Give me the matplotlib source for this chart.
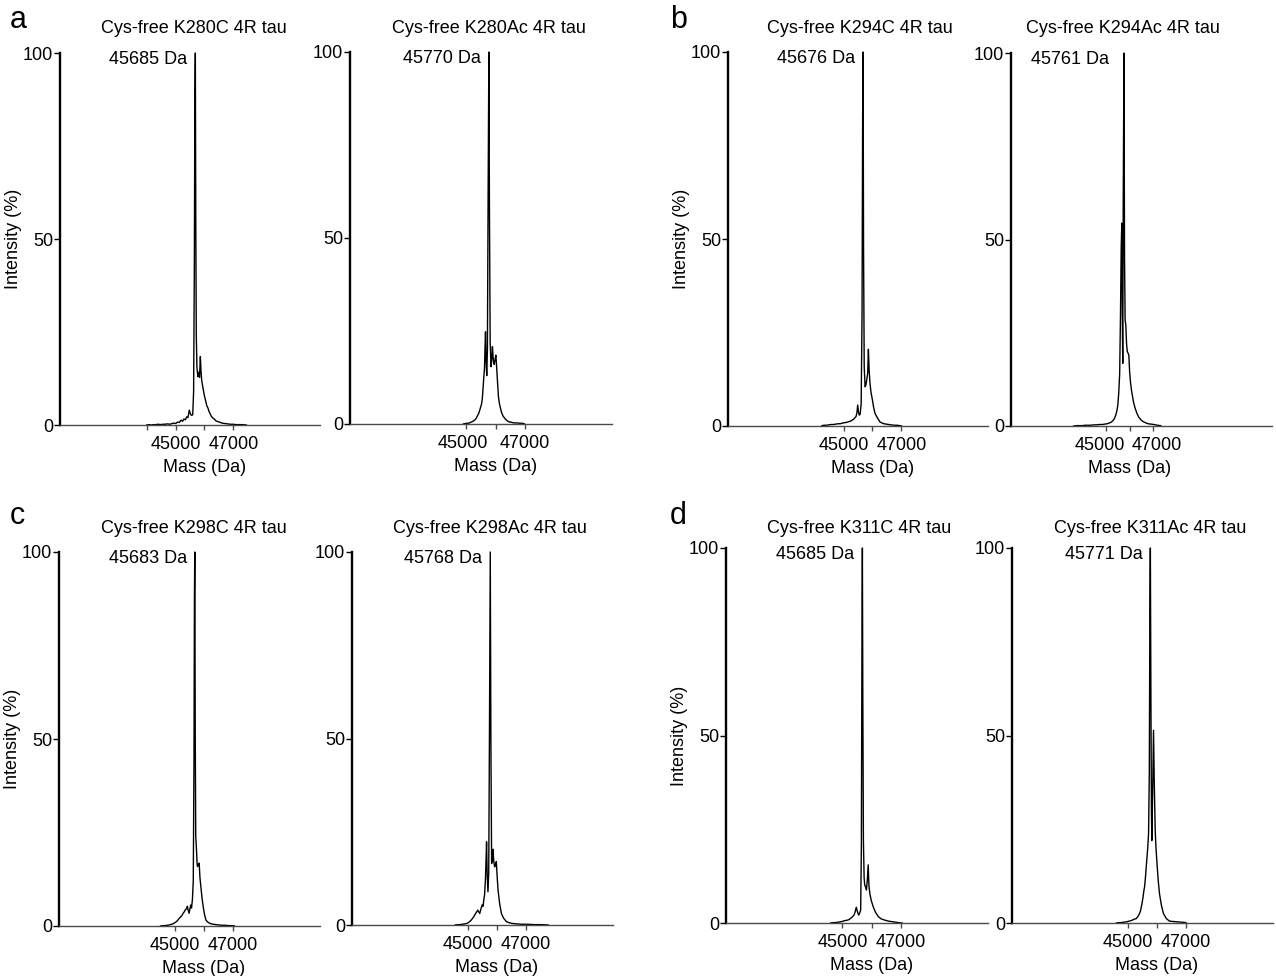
import matplotlib
matplotlib.use('Agg')
import matplotlib.pyplot as plt
from matplotlib.transforms import ScaledTranslation

plt.rcParams['font.family'] = ['Liberation Sans', 'DejaVu Sans']

# ---- data (mass in Da, intensity in %) ----
titles = ['Cys-free K280C 4R tau', 'Cys-free K280Ac 4R tau',
          'Cys-free K294C 4R tau', 'Cys-free K294Ac 4R tau',
          'Cys-free K298C 4R tau', 'Cys-free K298Ac 4R tau',
          'Cys-free K311C 4R tau', 'Cys-free K311Ac 4R tau']
peak_mass = [45685, 45770, 45676, 45761, 45683, 45768, 45685, 45771]

a1_mass = [44000, 44080, 44160, 44240, 44320, 44400, 44480, 44560,
           44640, 44720, 44800, 44880, 44950, 45010, 45070, 45130,
           45190, 45240, 45290, 45340, 45390, 45430, 45475, 45505,
           45535, 45565, 45594, 45625, 45650, 45668, 45685, 45700,
           45718, 45740, 45770, 45800, 45830, 45859, 45880, 45905,
           45930, 45960, 46000, 46040, 46080, 46120, 46160, 46200,
           46240, 46290, 46340, 46400, 46470, 46540, 46620, 46700,
           46800, 46900, 47000, 47100, 47200, 47320, 47450]
a1_int = [0.0, 0.1, 0.0, 0.1, 0.1, 0.2, 0.1, 0.2,
          0.2, 0.3, 0.2, 0.4, 0.5, 0.4, 0.8, 0.7,
          1.3, 1.0, 1.6, 1.4, 2.2, 2.0, 4.0, 3.2,
          2.7, 2.6, 2.8, 9.0, 42.0, 86.0, 100.0, 55.0,
          24.0, 15.5, 13.0, 14.2, 12.8, 18.4, 14.6, 12.0,
          10.8, 9.5, 7.8, 6.6, 5.2, 4.6, 3.6, 3.0,
          2.3, 1.9, 1.6, 1.1, 0.9, 0.7, 0.5, 0.4,
          0.3, 0.2, 0.2, 0.1, 0.1, 0.1, 0.0]

a2_mass = [44890, 44950, 45010, 45070, 45130, 45190, 45240, 45290,
           45340, 45390, 45430, 45460, 45490, 45520, 45545, 45570,
           45595, 45620, 45640, 45655, 45675, 45697, 45720, 45745,
           45770, 45790, 45815, 45845, 45870, 45893, 45915, 45935,
           45955, 45980, 46010, 46040, 46070, 46100, 46130, 46170,
           46210, 46260, 46320, 46380, 46450, 46530, 46620, 46720,
           46820, 46920, 47000]
a2_int = [0.0, 0.1, 0.2, 0.2, 0.4, 0.6, 0.8, 1.1,
          1.6, 2.4, 3.0, 3.8, 4.6, 5.4, 6.8, 9.5,
          12.5, 15.0, 21.0, 24.8, 17.0, 13.0, 20.0, 62.0,
          100.0, 58.0, 22.0, 15.4, 17.5, 20.8, 18.0, 16.4,
          16.0, 17.2, 18.5, 15.0, 11.0, 7.3, 5.6, 4.2,
          3.0, 2.1, 1.5, 1.0, 0.6, 0.5, 0.3, 0.3,
          0.2, 0.2, 0.0]

b1_mass = [44250, 44330, 44410, 44490, 44570, 44650, 44730, 44810,
           44890, 44970, 45050, 45120, 45190, 45250, 45300, 45350,
           45390, 45430, 45460, 45490, 45515, 45545, 45575, 45610,
           45640, 45660, 45676, 45692, 45715, 45745, 45775, 45805,
           45835, 45860, 45885, 45915, 45950, 45998, 46040, 46088,
           46140, 46200, 46260, 46330, 46400, 46480, 46560, 46650,
           46750, 46850, 46950, 47010]
b1_int = [0.1, 0.2, 0.2, 0.3, 0.4, 0.4, 0.5, 0.6,
          0.6, 0.8, 0.9, 1.0, 1.2, 1.3, 1.6, 1.8,
          2.2, 2.5, 3.4, 5.6, 3.8, 2.9, 3.2, 6.0,
          30.0, 82.0, 100.0, 48.0, 16.0, 10.5, 11.0, 12.5,
          14.0, 20.5, 15.0, 11.4, 9.0, 7.0, 5.0, 3.4,
          2.6, 1.8, 1.1, 0.8, 0.6, 0.5, 0.4, 0.3,
          0.2, 0.2, 0.1, 0.0]

b2_mass = [43640, 43760, 43880, 44000, 44120, 44240, 44360, 44480,
           44600, 44720, 44840, 44950, 45050, 45140, 45220, 45290,
           45350, 45410, 45460, 45500, 45540, 45580, 45615, 45645,
           45670, 45690, 45710, 45730, 45761, 45785, 45810, 45840,
           45870, 45900, 45935, 45967, 46000, 46040, 46080, 46120,
           46170, 46230, 46300, 46380, 46470, 46560, 46660, 46780,
           46900, 47030, 47160, 47310]
b2_int = [0.0, 0.1, 0.1, 0.1, 0.2, 0.2, 0.2, 0.3,
          0.3, 0.4, 0.4, 0.5, 0.6, 0.8, 1.0, 1.4,
          1.9, 2.8, 4.0, 5.5, 8.8, 14.0, 30.0, 48.0,
          54.4, 30.0, 16.8, 60.0, 100.0, 45.0, 28.4, 27.0,
          22.0, 20.0, 19.5, 19.0, 14.5, 11.5, 9.5, 8.0,
          6.2, 4.8, 3.5, 2.4, 1.7, 1.2, 0.9, 0.6,
          0.5, 0.4, 0.2, 0.1]

c1_mass = [44500, 44580, 44660, 44740, 44820, 44900, 44960, 45020,
           45080, 45140, 45190, 45240, 45280, 45320, 45360, 45400,
           45426, 45455, 45485, 45515, 45544, 45570, 45600, 45630,
           45655, 45670, 45683, 45698, 45715, 45739, 45760, 45774,
           45800, 45833, 45860, 45892, 45930, 45972, 46020, 46066,
           46120, 46180, 46240, 46296, 46380, 46480, 46600, 46720,
           46850, 46990, 47050]
c1_int = [0.0, 0.1, 0.1, 0.2, 0.3, 0.5, 0.7, 1.0,
          1.4, 2.0, 2.4, 2.8, 3.4, 3.8, 4.4, 4.6,
          5.3, 4.2, 3.4, 4.6, 5.6, 4.8, 7.0, 12.0,
          45.0, 88.0, 100.0, 52.0, 24.0, 20.8, 17.0, 15.9,
          16.2, 16.8, 13.0, 10.5, 7.6, 5.2, 3.0, 1.6,
          1.1, 0.8, 0.6, 0.5, 0.4, 0.3, 0.2, 0.2,
          0.1, 0.1, 0.0]

c2_mass = [44560, 44640, 44720, 44800, 44880, 44965, 45040, 45110,
           45160, 45196, 45240, 45290, 45335, 45370, 45405, 45445,
           45489, 45520, 45544, 45570, 45600, 45625, 45640, 45660,
           45688, 45715, 45740, 45768, 45790, 45815, 45840, 45862,
           45890, 45919, 45950, 45977, 46005, 46036, 46090, 46151,
           46230, 46325, 46420, 46540, 46680, 46845, 47050, 47300,
           47550, 47770]
c2_int = [0.0, 0.1, 0.1, 0.2, 0.3, 0.4, 0.8, 1.3,
          1.8, 2.2, 2.8, 3.4, 4.0, 3.5, 3.1, 4.3,
          5.4, 5.0, 6.7, 8.0, 12.0, 18.0, 22.3, 14.0,
          8.9, 14.0, 52.0, 100.0, 48.0, 16.5, 17.5, 20.3,
          17.0, 15.6, 16.2, 17.0, 13.0, 9.4, 5.8, 3.1,
          1.8, 0.9, 0.6, 0.4, 0.3, 0.2, 0.2, 0.1,
          0.1, 0.0]

d1_mass = [44600, 44680, 44760, 44840, 44920, 44990, 45060, 45130,
           45190, 45242, 45290, 45340, 45395, 45430, 45476, 45515,
           45556, 45590, 45626, 45650, 45668, 45685, 45700, 45720,
           45745, 45766, 45795, 45825, 45855, 45884, 45910, 45940,
           45990, 46058, 46140, 46233, 46330, 46440, 46582, 46750,
           46931, 47050]
d1_int = [0.0, 0.1, 0.1, 0.2, 0.3, 0.4, 0.6, 0.7,
          0.8, 1.0, 1.3, 1.6, 2.1, 2.8, 4.2, 3.0,
          2.1, 2.6, 3.5, 20.0, 70.0, 100.0, 60.0, 22.0,
          12.0, 10.1, 9.6, 8.8, 11.5, 15.5, 10.0, 7.9,
          6.0, 4.3, 2.8, 1.7, 1.1, 0.8, 0.5, 0.3,
          0.1, 0.0]

d2_mass = [44600, 44680, 44760, 44840, 44945, 45040, 45130, 45210,
           45288, 45340, 45390, 45430, 45459, 45490, 45520, 45550,
           45572, 45600, 45630, 45651, 45680, 45709, 45735, 45755,
           45771, 45790, 45808, 45822, 45850, 45880, 45905, 45938,
           45965, 45993, 46040, 46086, 46150, 46223, 46320, 46428,
           46560, 46720, 46880, 47000]
d2_int = [0.0, 0.1, 0.1, 0.2, 0.3, 0.5, 0.7, 1.0,
          1.2, 1.7, 2.4, 3.2, 4.3, 5.5, 7.0, 8.8,
          9.6, 12.0, 15.0, 17.2, 20.0, 23.8, 40.0, 85.0,
          100.0, 60.0, 30.0, 22.0, 35.0, 51.4, 38.0, 24.7,
          20.0, 16.7, 11.5, 7.8, 4.8, 2.5, 1.2, 0.5,
          0.4, 0.3, 0.2, 0.1]

spectra = [(a1_mass, a1_int), (a2_mass, a2_int), (b1_mass, b1_int), (b2_mass, b2_int),
           (c1_mass, c1_int), (c2_mass, c2_int), (d1_mass, d1_int), (d2_mass, d2_int)]

# ---- layout (pixels of the 1276x976 figure) ----
W, H = 1276, 976
# left, right, y of 0, y of 100
axes_px = [(60, 320, 425, 53), (350, 612, 424, 52), (728, 988, 426, 52), (1011, 1272, 426, 53),
           (59, 320, 926, 552), (352, 613, 925, 552), (726, 988, 923, 548), (1012, 1273, 923, 548)]
xlims = [(41000, 50000)] * 3 + [(41000, 52000)] + [(41000, 50000)] * 4
minor_ticks = [[44000, 46000], [46000], [46000], [46000], [46000], [46000], [46000], [46000]]
# horizontal nudges (px) of the two tick labels, the ref spreads them on the squeezed axis
label_nudge = [(0, 0), (-4, 0), (0, 0), (-6, 3), (0, 0), (0, 0), (0, 0), (0, 0)]
peak_gap = [8, 8, 8, 15, 8, 8, 8, 8]
title_px = [(194, 33), (489, 33), (860, 33), (1123, 33),
            (194, 533), (490, 533), (859, 533), (1150, 533)]
letters = [('a', 10, 28), ('b', 670, 28), ('c', 10, 524), ('d', 670, 524)]

fs = 13
axis_grey = '#4a4a4a'

fig = plt.figure(figsize=(W / 100, H / 100), dpi=100)

for k in range(8):
    l, r, y0, y100 = axes_px[k]
    ax = fig.add_axes([l / W, 1 - y0 / H, (r - l) / W, (y0 - y100) / H])
    m, inten = spectra[k]
    ax.plot(m, inten, color='black', lw=1.0, clip_on=False)
    ax.set_xlim(*xlims[k])
    ax.set_ylim(0, 100)

    for s in ['top', 'right']:
        ax.spines[s].set_visible(False)
    ax.spines['left'].set_linewidth(1.7)
    ax.spines['left'].set_color('black')
    ax.spines['bottom'].set_linewidth(1.0)
    ax.spines['bottom'].set_color(axis_grey)

    ax.set_yticks([0, 50, 100])
    ax.set_yticklabels(['0', '50', '100'])
    ax.tick_params(axis='y', length=4.3, width=1.0, pad=0.5, labelsize=fs)

    ax.set_xticks([45000, 47000])
    ax.set_xticklabels(['45000', '47000'])
    ax.set_xticks(minor_ticks[k], minor=True)
    ax.tick_params(axis='x', which='both', length=3.6, width=1.0,
                   color=axis_grey, pad=4.5, labelsize=fs)
    for lab, dx in zip(ax.get_xticklabels(), label_nudge[k]):
        if dx:
            lab.set_transform(lab.get_transform() +
                              ScaledTranslation(dx / 100, 0, fig.dpi_scale_trans))

    x0, x1 = xlims[k]
    ax.set_xlabel('Mass (Da)', x=(46000 - x0) / (x1 - x0), ha='center',
                  fontsize=fs, labelpad=4)
    if k % 2 == 0:
        ax.set_ylabel('Intensity (%)', fontsize=fs, labelpad=1)

    ax.annotate('{} Da'.format(peak_mass[k]), xy=(peak_mass[k], 100),
                xytext=(-peak_gap[k] * 0.72, -4.5), textcoords='offset points',
                ha='right', va='center', fontsize=fs)

    tx, ty = title_px[k]
    fig.text(tx / W, 1 - ty / H, titles[k], ha='center', va='baseline', fontsize=fs)

for letter, lx, ly in letters:
    fig.text(lx / W, 1 - ly / H, letter, ha='left', va='baseline', fontsize=22)

fig.savefig('out.png', dpi=100)
